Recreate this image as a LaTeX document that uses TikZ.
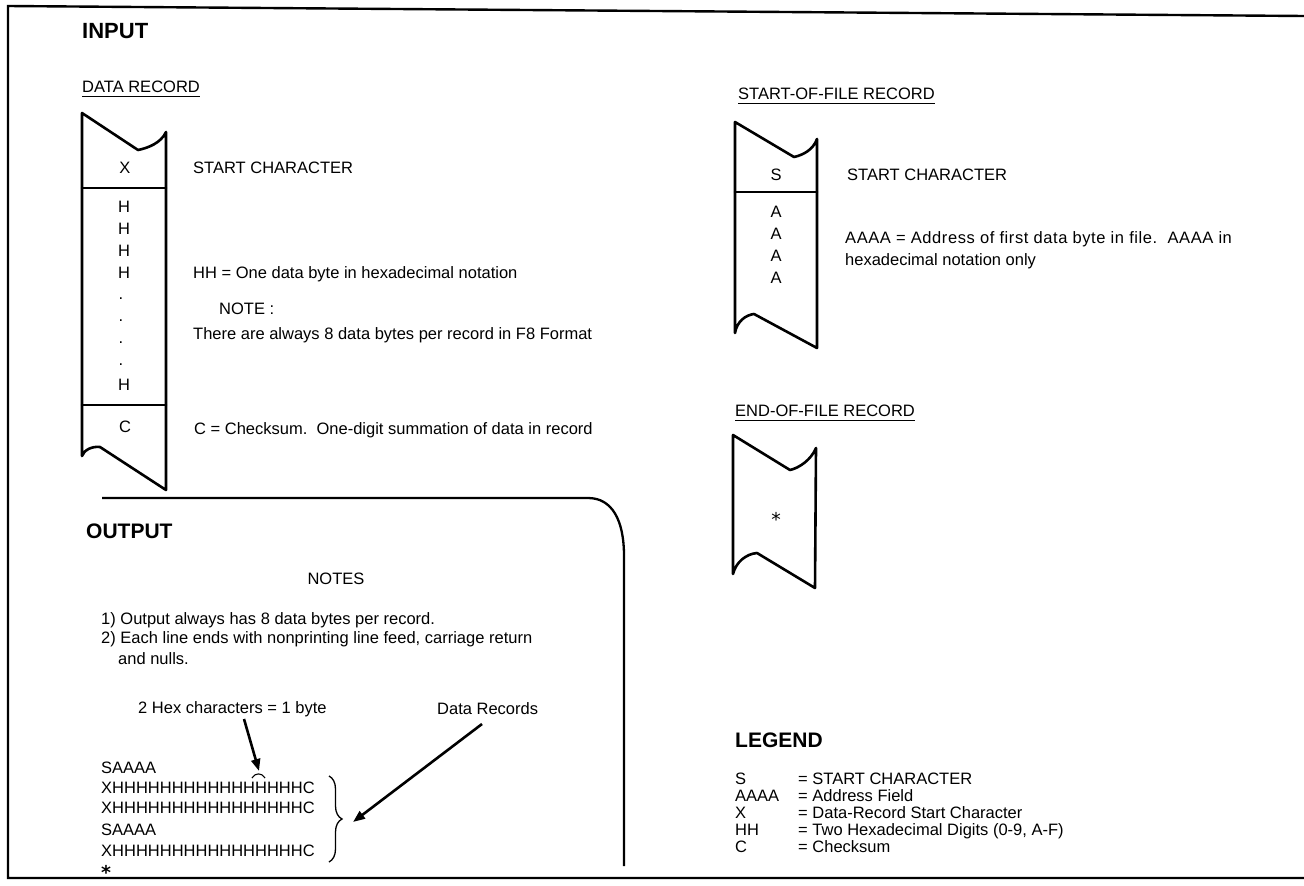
\documentclass[tikz,border=0pt]{standalone}
\usepackage{fontspec}
\setmainfont{Liberation Sans}
\newfontfamily\heavyast{DejaVu Sans}
\usetikzlibrary{arrows.meta,decorations.pathreplacing}
\begin{document}
\begin{tikzpicture}[x=1pt,y=-1pt,
  txt/.style={font=\fontsize{16.5}{20}\selectfont, inner sep=0pt, anchor=base west},
  hd/.style={font=\fontsize{21}{25}\selectfont\bfseries, inner sep=0pt, anchor=base west},
  lbl/.style={font=\fontsize{16.5}{20}\selectfont, inner sep=0pt, anchor=center},
  tape/.style={line width=2.6pt, line join=round, line cap=round},
  uline/.style={line width=1.4pt},
  frame/.style={line width=2.4pt},
  arr/.style={line width=2.6pt, -{Triangle[length=12pt,width=9pt]}},
]
\useasboundingbox (0,0) rectangle (1304,886);
\fill[white] (0,0) rectangle (1304,886);

% outer frame
\draw[frame] (1304,16) -- (8,6) -- (8,878) -- (1304,878);

% ---------------- INPUT ----------------
\node[hd, font=\fontsize{22}{26}\selectfont\bfseries] (inp) at (82,38) {INPUT};
\node[txt] (drt) at (82,92) {DATA RECORD};
\draw[uline] ([yshift=-4.5pt]drt.base west) -- ([yshift=-4.5pt]drt.base east);

% data record tape
\draw[tape] (82,113) -- (138,150) .. controls (148,148) and (161,143) .. (166,132)
  -- (166,490) -- (100,447) .. controls (92,446) and (84,450) .. (82,456) -- cycle;
\draw[tape] (82,188) -- (166,188);
\draw[tape] (82,405) -- (166,405);
\node[lbl] (dx) at (125,168) {X};
\node[lbl] (dh1) at (124,207) {H};
\node[lbl] (dh2) at (124,229) {H};
\node[lbl] (dh3) at (124,251) {H};
\node[lbl] (dh4) at (124,273) {H};
\node[lbl] (dd1) at (121,299) {.};
\node[lbl] (dd2) at (121,321) {.};
\node[lbl] (dd3) at (121,343) {.};
\node[lbl] (dd4) at (121,365) {.};
\node[lbl] (dh5) at (124,385) {H};
\node[lbl] (dc) at (125,427) {C};

\node[txt] (dst) at (193,173) {START CHARACTER};
\node[txt] (dhh) at (193,278) {HH = One data byte in hexadecimal notation};
\node[txt] (dnote) at (219,314) {NOTE :};
\node[txt] (dthere) at (193,339) {There are always 8 data bytes per record in F8 Format};
\node[txt] (dcs) at (194,434) {C = Checksum.\ \ One-digit summation of data in record};

% start-of-file record
\node[txt] (soft) at (738,99) {START-OF-FILE RECORD};
\draw[uline] ([yshift=-4.5pt]soft.base west) -- ([yshift=-4.5pt]soft.base east);
\draw[tape] (735,122) -- (794,157) .. controls (803,155) and (813,150) .. (817,139)
  -- (817,348) -- (754,314) .. controls (746,315) and (737,321) .. (735,333) -- cycle;
\draw[tape] (735,192) -- (817,192);
\node[lbl] (ss) at (776,175) {S};
\node[lbl] (sa1) at (776,212) {A};
\node[lbl] (sa2) at (776,234) {A};
\node[lbl] (sa3) at (776,256) {A};
\node[lbl] (sa4) at (776,278) {A};
\node[txt] (sst) at (847,180) {START CHARACTER};
\node[txt, font=\fontsize{16.5}{20}\selectfont\addfontfeature{LetterSpace=3.5}] (saa) at (845,243) {AAAA = Address of first data byte in file.\ \ AAAA in};
\node[txt] (shex) at (845,265) {hexadecimal notation only};

% end-of-file record
\node[txt] (eoft) at (735,416) {END-OF-FILE RECORD};
\draw[uline] ([yshift=-4.5pt]eoft.base west) -- ([yshift=-4.5pt]eoft.base east);
\draw[tape] (733,435) -- (790,470) .. controls (799,468) and (811,460) .. (816,448)
  -- (815,588) -- (757,553) .. controls (746,554) and (736,562) .. (733,574) -- cycle;
\node[font=\fontsize{19}{22}\selectfont\heavyast, inner sep=0pt, anchor=base] (east) at (776,526) {*};

% ---------------- OUTPUT ----------------
\draw[line width=2.3pt] (102,498) -- (588,498) .. controls (612,498) and (624,520) .. (624,556) -- (624,866);
\node[hd] (outh) at (86,538) {OUTPUT};
\node[txt, anchor=base] (notes) at (336,584) {NOTES};
\node[txt] (n1) at (101,624) {1) Output always has 8 data bytes per record.};
\node[txt] (n2) at (101,643) {2) Each line ends with nonprinting line feed, carriage return};
\node[txt] (n2b) at (118,664) {and nulls.};
\node[txt] (hexl) at (138,713) {2 Hex characters = 1 byte};
\node[txt] (drl) at (437,714) {Data Records};

\node[txt] (o1) at (101,773.5) {SAAAA};
\node[txt] (o2) at (101,793.5) {XHHHHHHHHHHHHHHHHC};
\node[txt] (o3) at (101,813.5) {XHHHHHHHHHHHHHHHHC};
\node[txt] (o4) at (101,835) {SAAAA};
\node[txt] (o5) at (101,856) {XHHHHHHHHHHHHHHHHC};
\node[font=\fontsize{19}{22}\selectfont\heavyast\bfseries, inner sep=0pt, anchor=base west] (o6) at (101,879) {*};

% arc over one byte
\draw[line width=1.1pt] (252,778) .. controls (255,772.5) and (262,772.5) .. (265,778);
% brace
\draw[line width=1.3pt, decorate, decoration={brace, amplitude=13pt}] (329,776) -- (329,862);

% arrows
\coordinate (a1s) at (244,719);
\coordinate (a1e) at (259,771);
\draw[arr] (a1s) -- (a1e);
\coordinate (a2s) at (482,724);
\coordinate (a2e) at (353,822);
\draw[arr] (a2s) -- (a2e);

% ---------------- LEGEND ----------------
\node[hd] (leg) at (735,747) {LEGEND};
\node[txt] (l1k) at (735,784) {S};
\node[txt] (l1v) at (798,784) {= START CHARACTER};
\node[txt] (l2k) at (735,801) {AAAA};
\node[txt] (l2v) at (798,801) {= Address Field};
\node[txt] (l3k) at (735,818) {X};
\node[txt] (l3v) at (798,818) {= Data-Record Start Character};
\node[txt] (l4k) at (735,835) {HH};
\node[txt] (l4v) at (798,835) {= Two Hexadecimal Digits (0-9, A-F)};
\node[txt] (l5k) at (735,852) {C};
\node[txt] (l5v) at (798,852) {= Checksum};
\end{tikzpicture}
\end{document}
